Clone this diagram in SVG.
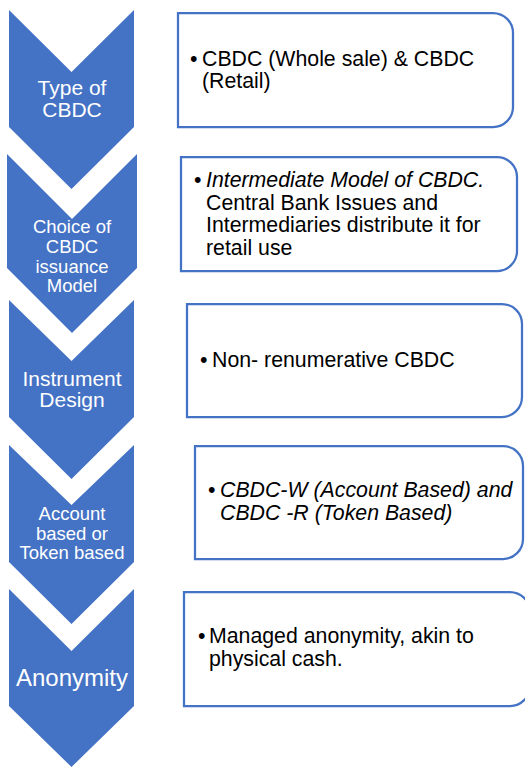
<svg xmlns="http://www.w3.org/2000/svg" width="525" height="767" viewBox="0 0 525 767">
<style>
.chev{fill:#4472C4}
.ct{fill:#fff;font-family:"Liberation Sans",Arial,sans-serif;text-anchor:middle}
.box{fill:#fff;stroke:#4472C4;stroke-width:2.25}
.bt{fill:#000;font-family:"Liberation Sans",Arial,sans-serif;font-size:21.3px}
.it{font-style:italic}
</style>
<rect width="525" height="767" fill="#fff"/>
<g id="step1">
<path class="chev" d="M9,10 L71.5,72 L134,10 L134,127 L71.5,189 L9,127 Z"/>
<text class="ct" font-size="21"><tspan x="72" y="95">Type of</tspan><tspan x="72" y="117">CBDC</tspan></text>
</g>
<g id="step2">
<path class="chev" d="M7,154 L72,219 L137,154 L137,268 L72,333 L7,268 Z"/>
<text class="ct" font-size="18.5"><tspan x="72" y="233">Choice of</tspan><tspan x="72" y="253">CBDC</tspan><tspan x="72" y="273">issuance</tspan><tspan x="72" y="292">Model</tspan></text>
</g>
<g id="step3">
<path class="chev" d="M9,300 L71.5,361 L134,300 L134,417 L71.5,479 L9,417 Z"/>
<text class="ct" font-size="21"><tspan x="72" y="386">Instrument</tspan><tspan x="72" y="407">Design</tspan></text>
</g>
<g id="step4">
<path class="chev" d="M9,445 L71.5,505 L134,445 L134,562 L71.5,624 L9,562 Z"/>
<text class="ct" font-size="18.5"><tspan x="72" y="520">Account</tspan><tspan x="72" y="540">based or</tspan><tspan x="72" y="559">Token based</tspan></text>
</g>
<g id="step5">
<path class="chev" d="M9,589 L71.5,651 L134,589 L134,706 L71.5,767 L9,706 Z"/>
<text class="ct" font-size="24" x="72" y="686">Anonymity</text>
</g>
<g id="box1">
<path class="box" d="M178,13 H493 A20,20 0 0 1 513,33 V107 A20,20 0 0 1 493,127 H178 Z"/>
<text class="bt"><tspan x="190" y="65.5">•</tspan><tspan x="202" y="65.5">CBDC (Whole sale) &amp; CBDC</tspan><tspan x="202" y="88">(Retail)</tspan></text>
</g>
<g id="box2">
<path class="box" d="M181,157 H497 A20,20 0 0 1 517,177 V251 A20,20 0 0 1 497,271 H181 Z"/>
<text class="bt"><tspan x="194" y="187">•</tspan><tspan class="it" x="206" y="187">Intermediate Model of CBDC.</tspan><tspan x="206" y="209.5">Central Bank Issues and</tspan><tspan x="206" y="232">Intermediaries distribute it for</tspan><tspan x="206" y="254.5">retail use</tspan></text>
</g>
<g id="box3">
<path class="box" d="M187,304 H502 A20,20 0 0 1 522,324 V397 A20,20 0 0 1 502,417 H187 Z"/>
<text class="bt"><tspan x="200" y="367">•</tspan><tspan x="212" y="367">Non- renumerative CBDC</tspan></text>
</g>
<g id="box4">
<path class="box" d="M195,446 H503 A20,20 0 0 1 523,466 V539 A20,20 0 0 1 503,559 H195 Z"/>
<text class="bt"><tspan x="208" y="497">•</tspan><tspan class="it" x="220" y="497">CBDC-W (Account Based) and</tspan><tspan class="it" x="220" y="519.5">CBDC -R (Token Based)</tspan></text>
</g>
<g id="box5">
<path class="box" d="M184,592 H510 A20,20 0 0 1 530,612 V686 A20,20 0 0 1 510,706 H184 Z"/>
<text class="bt"><tspan x="198" y="643">•</tspan><tspan x="209" y="643">Managed anonymity, akin to</tspan><tspan x="209" y="665.5">physical cash.</tspan></text>
</g>
<g id="connectors"></g>
</svg>
